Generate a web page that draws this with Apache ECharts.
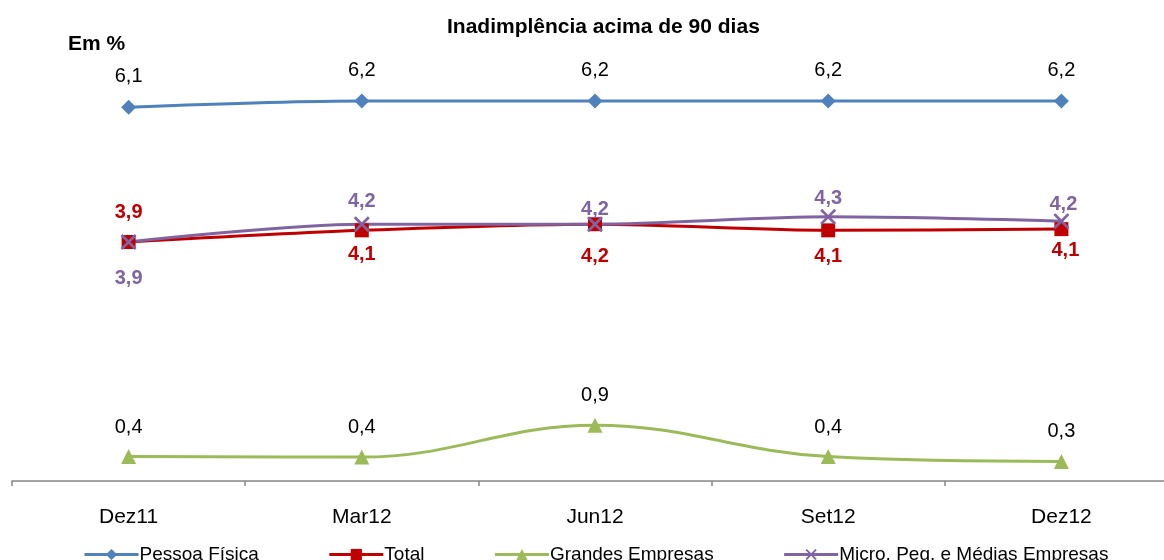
<!DOCTYPE html>
<html><head><meta charset="utf-8">
<script src="https://cdn.jsdelivr.net/npm/echarts@6/dist/echarts.min.js"></script>
<style>html,body{margin:0;padding:0;background:#fff}#c{width:1164px;height:560px}</style>
</head><body><div id="c"></div>
<script>
var categories = ['Dez11', 'Mar12', 'Jun12', 'Set12', 'Dez12'];
var pessoaFisica = [6.1, 6.2, 6.2, 6.2, 6.2];
var total = [3.9, 4.09, 4.19, 4.09, 4.11];
var grandesEmpresas = [0.4, 0.39, 0.91, 0.4, 0.32];
var microPME = [3.9, 4.19, 4.19, 4.31, 4.24];
var seriesNames = ['Pessoa Física', 'Total', 'Grandes Empresas', 'Micro, Peq. e Médias Empresas'];

var FONT = 'Liberation Sans, Arial, sans-serif';
function fmt(p){ return p.value.toFixed(1).replace('.', ','); }

// label placement per point (style only)
var totalPos = ['top','bottom','bottom','bottom','bottom'];
var microPos = ['bottom','top','top','top','top'];
function items(vals, positions, dists, offs){
  return vals.map(function(v,i){
    var it = {value: v};
    if (positions) {
      it.label = {position: positions[i], distance: dists[i]};
      if (offs) it.label.offset = offs[i];
    }
    return it;
  });
}
var xPath = 'path://M0,1.2L1.2,0L5,3.8L8.8,0L10,1.2L6.2,5L10,8.8L8.8,10L5,6.2L1.2,10L0,8.8L3.8,5Z';

var chart = echarts.init(document.getElementById('c'));
chart.setOption({
  animation: false,
  title: {text: 'Inadimplência acima de 90 dias', left: 442, top: 12,
    textStyle: {fontFamily: FONT, fontSize: 21, fontWeight: 'bold', color: '#000'}},
  graphic: [{type: 'text', left: 68, top: 34, style: {text: 'Em %', fontFamily: FONT, fontSize: 21, fontWeight: 'bold', fill: '#000'}}],
  legend: {left: 78, top: 540, itemGap: 69, itemWidth: 54, itemHeight: 14,
    lineStyle: {width: 3},
    textStyle: {fontFamily: FONT, fontSize: 19, color: '#000', padding: [0,0,0,-4]},
    data: seriesNames},
  grid: {left: 12, width: 1166, top: 52, height: 429, outerBoundsMode: 'none', containLabel: false},
  xAxis: {type: 'category', data: categories, boundaryGap: true,
    axisLine: {lineStyle: {color: '#868686', width: 1.5}},
    axisTick: {show: true, length: 5, lineStyle: {color: '#868686', width: 1.5}},
    axisLabel: {fontFamily: FONT, fontSize: 21, color: '#000', margin: 26}},
  yAxis: {type: 'value', min: 0, max: 7, show: false, splitLine: {show: false}},
  series: [
    {name: seriesNames[0], type: 'line', data: items(pessoaFisica), smooth: 0.3,
      symbol: 'diamond', symbolSize: 15, itemStyle: {color: '#4F81BD'}, lineStyle: {width: 3, color: '#4F81BD'},
      label: {show: true, position: 'top', distance: 13, formatter: fmt, fontFamily: FONT, fontSize: 20, color: '#000'}},
    {name: seriesNames[1], type: 'line', data: items(total, totalPos, [13,7,15,9,4], [[0,0],[0,0],[0,0],[0,0],[4,0]]), smooth: 0.3,
      symbol: 'rect', symbolSize: 14, itemStyle: {color: '#C00000'}, lineStyle: {width: 3, color: '#C00000'},
      label: {show: true, formatter: fmt, fontFamily: FONT, fontSize: 20, fontWeight: 'bold', color: '#C00000'}},
    {name: seriesNames[2], type: 'line', data: items(grandesEmpresas), smooth: 0.4,
      symbol: 'triangle', symbolSize: 15, itemStyle: {color: '#9BBB59'}, lineStyle: {width: 3, color: '#9BBB59'},
      label: {show: true, position: 'top', distance: 12, formatter: fmt, fontFamily: FONT, fontSize: 20, color: '#000'}},
    {name: seriesNames[3], type: 'line', data: items(microPME, microPos, [18,5,-3,0,-1], [[0,0],[0,0],[0,0],[0,0],[2,0]]), smooth: 0.3,
      symbol: xPath, symbolSize: 16, itemStyle: {color: '#8064A2'}, lineStyle: {width: 3, color: '#8064A2'},
      label: {show: true, formatter: fmt, fontFamily: FONT, fontSize: 20, fontWeight: 'bold', color: '#8064A2'}}
  ]
});
</script></body></html>
